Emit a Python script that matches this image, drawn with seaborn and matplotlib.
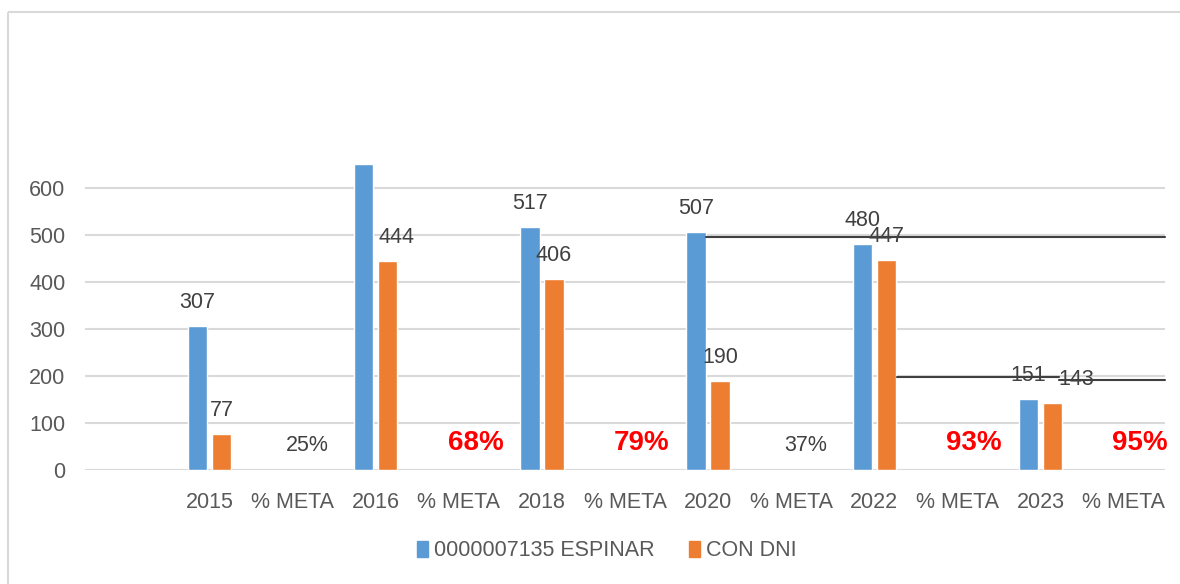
import numpy as np
import pandas as pd
import matplotlib
matplotlib.use("Agg")
import matplotlib.pyplot as plt
from matplotlib.patches import Rectangle
from matplotlib.lines import Line2D
import seaborn as sns

sns.set_theme(style="white")
plt.rcParams["font.family"] = ["Liberation Sans", "DejaVu Sans"]
plt.rcParams["figure.edgecolor"] = "white"

# category axis (first slot is empty in the original chart)
labels   = ["", "2015", "% META", "2016", "% META", "2018", "% META",
            "2020", "% META", "2022", "% META", "2023", "% META"]
espinar  = [np.nan, 307, np.nan, 652, np.nan, 517, np.nan, 507, np.nan, 480, np.nan, 151, np.nan]
con_dni  = [np.nan, 77, np.nan, 444, np.nan, 406, np.nan, 190, np.nan, 447, np.nan, 143, np.nan]
series   = ["0000007135 ESPINAR", "CON DNI"]
pct_text = ["", "", "25%", "", "68%", "", "79%", "", "37%", "", "93%", "", "95%"]
pct_hit  = [False, False, False, False, True, False, True, False, False, False, True, False, True]

BLUE, ORANGE = "#5B9BD5", "#ED7D31"
GRID, TICK, LAB = "#d9d9d9", "#595959", "#404040"

rows = []
for i in range(len(labels)):
    for s, vals in zip(series, [espinar, con_dni]):
        if not np.isnan(vals[i]):
            rows.append(dict(pos=i, serie=s, valor=vals[i]))
df = pd.DataFrame(rows)

fig = plt.figure(figsize=(11.8, 5.84), dpi=100)
ax = fig.add_axes([85 / 1180, 114 / 584, 1080 / 1180, 329 / 584])

sns.barplot(data=df, x="pos", y="valor", hue="serie", order=list(range(len(labels))),
            hue_order=series, palette=[BLUE, ORANGE], width=0.58, gap=0.2,
            saturation=1, ax=ax, legend=False)

ax.set_xlim(-0.5, len(labels) - 0.5)
ax.set_ylim(0, 700)
ax.set_yticks(range(0, 700, 100))
ax.set_xticks(range(len(labels)))
ax.set_xticklabels(labels)
ax.yaxis.grid(True, color=GRID, lw=1.5)
ax.set_axisbelow(True)
for sp in ax.spines.values():
    sp.set_visible(False)
ax.tick_params(axis="both", length=0, labelsize=15.5, colors=TICK)
ax.tick_params(axis="y", pad=14)
ax.tick_params(axis="x", pad=16)
ax.set_xlabel("")
ax.set_ylabel("")

# data labels (2016 blue carries none in the original)
skip = {(0, 3)}
shift = {(1, 3): 6, (1, 11): 17}   # sideways nudges in points
for k, cont in enumerate(ax.containers):
    vals = [espinar, con_dni][k]
    cats = [i for i, v in enumerate(vals) if not np.isnan(v)]
    for bar, i in zip(cont, cats):
        if (k, i) in skip:
            continue
        ax.annotate(f"{int(vals[i])}", (bar.get_x() + bar.get_width() / 2, bar.get_height()),
                    xytext=(shift.get((k, i), 0), 17), textcoords="offset points",
                    ha="center", va="center", fontsize=15.5, color=LAB)

# percentage labels
for i, (t, hit) in enumerate(zip(pct_text, pct_hit)):
    if not t:
        continue
    if hit:
        ax.text(i + 0.2, 57, t, ha="center", va="center", fontsize=20,
                fontweight="bold", color="#FF0000")
    else:
        ax.text(i + 0.17, 52, t, ha="center", va="center", fontsize=15.5, color=LAB)

# stray connector lines drawn on the original
ax.plot([6.98, 12.5], [496, 496], color="#404040", lw=1.5, clip_on=False)
ax.plot([9.27, 11.23], [198, 198], color="#404040", lw=1.5, clip_on=False)
ax.plot([11.23, 12.5], [191, 191], color="#404040", lw=1.5, clip_on=False)

handles = [Rectangle((0, 0), 1, 1, color=c) for c in (BLUE, ORANGE)]
ax.legend(handles, series, loc="center", bbox_to_anchor=(607 / 1180, 1 - 551 / 584),
          bbox_transform=fig.transFigure, ncol=2, frameon=False, fontsize=15.5,
          handlelength=0.5, handleheight=0.7, handletextpad=0.3, columnspacing=1.6,
          labelcolor=TICK)

# chart-area border: only left and top edges are visible in the crop
top = 1 - 12 / 584
fig.add_artist(Line2D([8 / 1180, 8 / 1180], [-0.05, top], color=GRID, lw=1.5,
                      solid_capstyle="butt"))
fig.add_artist(Line2D([8 / 1180, 1.05], [top, top], color=GRID, lw=1.5,
                      solid_capstyle="butt"))

fig.savefig("out.png", dpi=100)
